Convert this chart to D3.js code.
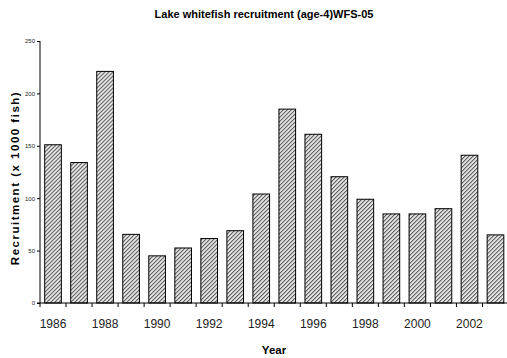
<!DOCTYPE html>
<html><head><meta charset="utf-8">
<script src="https://cdn.jsdelivr.net/npm/d3@7"></script>
<style>body{margin:0;background:#fff;}svg{display:block;font-family:"Liberation Sans",Arial,sans-serif;}</style>
</head><body>
<script>
const years = [1986,1987,1988,1989,1990,1991,1992,1993,1994,1995,1996,1997,1998,1999,2000,2001,2002,2003];
const recruitment = [151,134,221,65.5,45,52.5,61.5,69,104,185,161,120.5,99,85,85,90,141,65];
const yTicks = [0,50,100,150,200,250];
const xLabelYears = [1986,1988,1990,1992,1994,1996,1998,2000,2002];
const title = "Lake whitefish recruitment (age-4)WFS-05";
const yTitle = "Recruitment (x 1000 fish)";
const xTitle = "Year";

const W=507,H=358;
const svg=d3.select("body").append("svg").attr("width",W).attr("height",H);
const defs=svg.append("defs");
const pw=2.83;
const pat=defs.append("pattern").attr("id","hatch").attr("patternUnits","userSpaceOnUse")
  .attr("width",pw).attr("height",pw).attr("patternTransform","rotate(45)");
pat.append("rect").attr("width",pw).attr("height",pw).attr("fill","#fff");
pat.append("line").attr("x1",0.7).attr("y1",0).attr("x2",0.7).attr("y2",pw).attr("stroke","#333").attr("stroke-width",1.0);

const x=d3.scaleBand().domain(years).range([40,508.5]).paddingInner(0.36).paddingOuter(0.18);
const y=d3.scaleLinear().domain([0,250]).range([303,41]);

svg.selectAll("rect.bar").data(years).enter().append("rect").attr("class","bar")
  .attr("x",d=>x(d)).attr("width",x.bandwidth())
  .attr("y",(d,i)=>y(recruitment[i])).attr("height",(d,i)=>y(0)-y(recruitment[i]))
  .attr("fill","url(#hatch)").attr("stroke","#000").attr("stroke-width",1);

// y axis
const ya=svg.append("g").attr("transform","translate(40,0)")
  .call(d3.axisLeft(y).tickValues(yTicks).tickSize(3).tickPadding(2).tickFormat(d3.format("d")));
ya.select(".domain").attr("d",`M0,${y(250)}V${y(0)}`);
ya.selectAll("text").attr("font-size",6).attr("fill","#222").attr("font-family","Liberation Sans, Arial");
ya.selectAll("line").attr("stroke","#000");

// x axis
const xa=svg.append("g").attr("transform",`translate(0,${y(0)})`);
xa.append("line").attr("x1",37).attr("x2",508).attr("y1",0).attr("y2",0).attr("stroke","#000");
years.forEach((d,i)=>{
  const bx = i===0 ? 40 : (x(years[i-1])+x.bandwidth()+x(d))/2;
  xa.append("line").attr("x1",bx).attr("x2",bx).attr("y1",0).attr("y2",4).attr("stroke","#000");
});
xa.selectAll("text").data(xLabelYears).enter().append("text")
  .attr("x",d=>x(d)+x.bandwidth()/2).attr("y",25)
  .attr("text-anchor","middle").attr("font-size",12).attr("fill","#222").text(d=>d);

svg.append("text").attr("x",264).attr("y",18).attr("text-anchor","middle")
  .attr("font-size",11).attr("font-weight","bold").text(title);
svg.append("text").attr("x",274).attr("y",354).attr("text-anchor","middle")
  .attr("font-size",11.5).attr("font-weight","bold").text(xTitle);
svg.append("text").attr("transform","translate(19,178) rotate(-90)").attr("text-anchor","middle")
  .attr("font-size",11.5).attr("font-weight","bold").attr("letter-spacing",1.5).text(yTitle);
</script>
</body></html>
